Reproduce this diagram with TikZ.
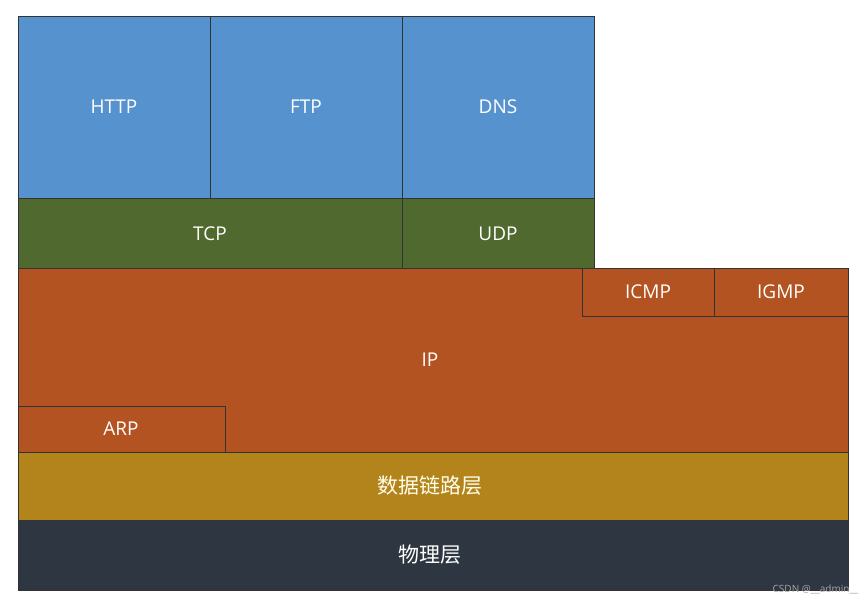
\documentclass[tikz,border=0pt]{standalone}
\usepackage{fontspec}
\setmainfont{Open Sans}
\newfontfamily\cjk{Noto Sans CJK SC}
\definecolor{cblue}{HTML}{5692CE}
\definecolor{cgreen}{HTML}{50692F}
\definecolor{corange}{HTML}{B35322}
\definecolor{cgold}{HTML}{B3841C}
\definecolor{cdark}{HTML}{2E3641}
\begin{document}
\begin{tikzpicture}[x=1pt,y=-1pt,
  blk/.style={draw=black!80,line width=0.6pt},
  lbl/.style={text=white,font=\fontsize{19}{22}\selectfont}]
\useasboundingbox[fill=white] (0,0) rectangle (865,606);
\fill[blk,fill=cblue] (18,16) rectangle (210,198);
\fill[blk,fill=cblue] (210,16) rectangle (402,198);
\fill[blk,fill=cblue] (402,16) rectangle (594,198);
\fill[blk,fill=cgreen] (18,198) rectangle (402,268);
\fill[blk,fill=cgreen] (402,198) rectangle (594,268);
\fill[blk,fill=corange] (18,268) rectangle (848,452);
\draw[blk,fill=corange] (582,268) rectangle (714,316);
\draw[blk,fill=corange] (714,268) rectangle (848,316);
\draw[blk,fill=corange] (18,406) rectangle (225,452);
\fill[blk,fill=cgold] (18,452) rectangle (848,520);
\fill[blk,fill=cdark] (18,520) rectangle (848,590);
\node[lbl] (http) at (114,107) {HTTP};
\node[lbl] (ftp) at (306,107) {FTP};
\node[lbl] (dns) at (498,107) {DNS};
\node[lbl] (tcp) at (210,234) {TCP};
\node[lbl] (udp) at (498,234) {UDP};
\node[lbl] (icmp) at (648,292) {ICMP};
\node[lbl] (igmp) at (781,292) {IGMP};
\node[lbl] (ip) at (430,360) {IP};
\node[lbl] (arp) at (121,429) {ARP};
\node[lbl,font=\cjk\fontsize{21}{24}\selectfont,text=white!92!yellow] (dl) at (430,486) {数据链路层};
\node[lbl,font=\cjk\fontsize{21}{24}\selectfont] (ph) at (430,555) {物理层};
\node[text=gray!70,font=\fontsize{10}{12}\selectfont,anchor=east] (wm) at (862,589) {CSDN @\_\_admin\_\_};
\end{tikzpicture}
\end{document}
